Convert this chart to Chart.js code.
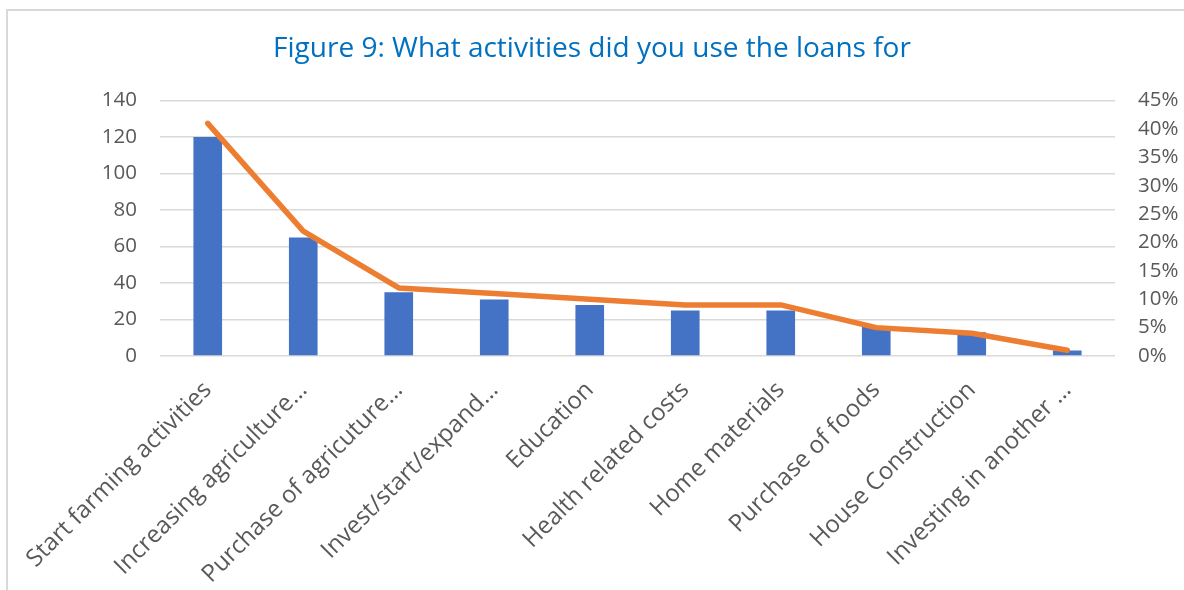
<!DOCTYPE html>
<html>
<head>
<meta charset="utf-8">
<script src="https://cdn.jsdelivr.net/npm/chart.js@4/dist/chart.umd.min.js"></script>
<style>
  html, body { margin: 0; padding: 0; background: #fff; overflow: hidden; }
  #frame { position: absolute; left: 6px; top: 9px; width: 1300px; height: 700px;
           border-top: 2px solid #d9d9d9; border-left: 2px solid #d9d9d9; box-sizing: border-box; }
  #wrap { position: absolute; left: 0; top: 0; width: 1184px; height: 590px; }
</style>
</head>
<body>
<div id="frame"></div>
<div id="wrap"><canvas id="c" width="1184" height="590"></canvas></div>
<script>
const categories = [
  "Start farming activities",
  "Increasing agriculture\u2026",
  "Purchase of agricuture\u2026",
  "Invest/start/expand\u2026",
  "Education",
  "Health related costs",
  "Home materials",
  "Purchase of foods",
  "House Construction",
  "Investing in another \u2026"
];
const counts = [120, 65, 35, 31, 28, 25, 25, 16, 13, 3];
const percents = [41, 22, 12, 11, 10, 9, 9, 5, 4, 1];
const leftTicks = [0, 20, 40, 60, 80, 100, 120, 140];
const rightTicks = [0, 5, 10, 15, 20, 25, 30, 35, 40, 45];
const titleText = "Figure 9: What activities did you use the loans for";

const FONT = "'Open Sans', 'Liberation Sans', sans-serif";
const yFont = { family: FONT, size: 20.5 };
const xFont = { family: FONT, size: 24 };

new Chart(document.getElementById('c'), {
  data: {
    labels: categories,
    datasets: [
      {
        type: 'line',
        data: percents,
        yAxisID: 'y1',
        borderColor: '#ED7D31',
        borderWidth: 5.5,
        borderCapStyle: 'round',
        borderJoinStyle: 'round',
        pointRadius: 0,
        tension: 0,
        order: 0
      },
      {
        type: 'bar',
        data: counts,
        yAxisID: 'y',
        backgroundColor: '#4472C4',
        barPercentage: 0.6,
        categoryPercentage: 0.5,
        order: 1
      }
    ]
  },
  options: {
    responsive: false,
    animation: false,
    layout: { padding: { left: 0, right: 0, top: 0, bottom: 0 } },
    plugins: {
      legend: { display: false },
      tooltip: { enabled: false },
      title: {
        display: true,
        text: titleText,
        color: '#0070C0',
        font: { family: FONT, size: 28, weight: 'normal', lineHeight: 1.2 },
        padding: { top: 32, bottom: 35 }
      }
    },
    scales: {
      x: {
        grid: { display: false, drawTicks: false },
        border: { display: false },
        ticks: {
          color: '#595959', font: xFont, maxRotation: 45, minRotation: 45,
          autoSkip: false, padding: 20
        },
        afterFit: (s) => { s.height = 234; }
      },
      y: {
        position: 'left',
        min: 0, max: 140,
        afterBuildTicks: (s) => { s.ticks = leftTicks.map(v => ({ value: v })); },
        grid: { color: '#d9d9d9', lineWidth: 1.5, drawTicks: false },
        border: { display: false },
        ticks: { color: '#595959', font: yFont, padding: 23 },
        afterFit: (s) => { s.width = 160; }
      },
      y1: {
        position: 'right',
        min: 0, max: 45,
        afterBuildTicks: (s) => { s.ticks = rightTicks.map(v => ({ value: v })); },
        grid: { display: false, drawTicks: false },
        border: { display: false },
        ticks: { color: '#595959', font: yFont, padding: 23, callback: (v) => v + '%' },
        afterFit: (s) => { s.width = 69; }
      }
    }
  }
});
</script>
</body>
</html>
